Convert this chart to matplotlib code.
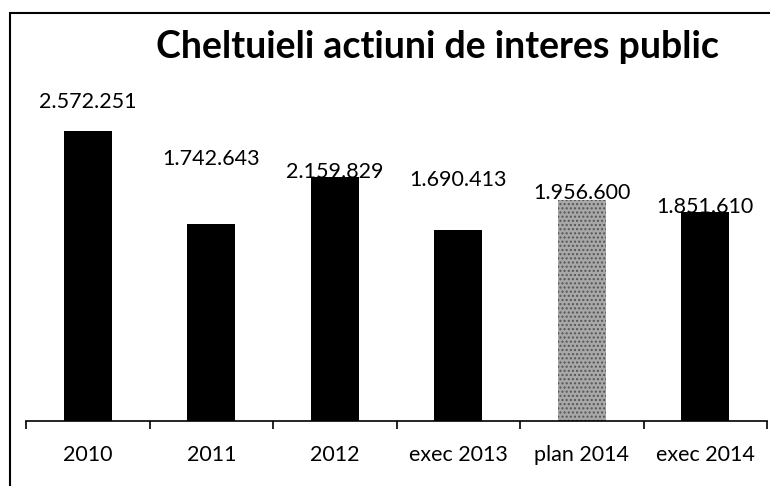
import matplotlib.pyplot as plt
from matplotlib.patches import Rectangle

# data
categories = ["2010", "2011", "2012", "exec 2013", "plan 2014", "exec 2014"]
values = [2572251, 1742643, 2159829, 1690413, 1956600, 1851610]
labels = ["2.572.251", "1.742.643", "2.159.829", "1.690.413", "1.956.600", "1.851.610"]

# label offsets above the bar tops (points), as placed in the original
label_offsets = [21, 47, 4, 36, 5, 4]
colors = ["black", "black", "black", "black", "#a8a8a8", "black"]
hatches = [None, None, None, None, "....", None]

plt.rcParams['font.family'] = ['Lato', 'DejaVu Sans']

fig = plt.figure(figsize=(7.7, 4.86), dpi=100)
ax = fig.add_axes([26 / 770, 65 / 486, 741 / 770, 361 / 486])

x = range(len(categories))
bars = ax.bar(x, values, width=0.39, color=colors, edgecolor=colors, linewidth=0)
for b, h in zip(bars, hatches):
    if h:
        b.set_hatch(h)
        b.set_edgecolor("#555555")

for i, (v, lab, off) in enumerate(zip(values, labels, label_offsets)):
    ax.annotate(lab, (i, v), xytext=(0, off), textcoords="offset points",
                ha="center", va="center", fontsize=15.5)

ax.set_xlim(-0.5, len(categories) - 0.5)
ax.set_ylim(0, 3.2e6)
ax.set_xticks([i - 0.5 for i in range(len(categories) + 1)], minor=False)
ax.set_xticklabels([])
ax.set_xticks(list(x), minor=True)
ax.set_xticklabels(categories, minor=True, fontsize=15.5)
ax.tick_params(axis="x", which="major", length=6, width=1.2, direction="out")
ax.tick_params(axis="x", which="minor", length=0, pad=17)
ax.set_yticks([])
for s in ["top", "right", "left"]:
    ax.spines[s].set_visible(False)
ax.spines["bottom"].set_linewidth(1.2)

fig.text(437 / 770, 1 - 47 / 486, "Cheltuieli actiuni de interes public",
         ha="center", va="center", fontsize=27, fontweight="bold")

# outer chart frame (only left and top edges visible in the scan)
fig.patches.append(Rectangle((10 / 770, -0.05), 1.0, 1 - 13 / 486 + 0.05,
                             transform=fig.transFigure, fill=False,
                             edgecolor="black", linewidth=1.5))

fig.savefig("out.png", dpi=100)
